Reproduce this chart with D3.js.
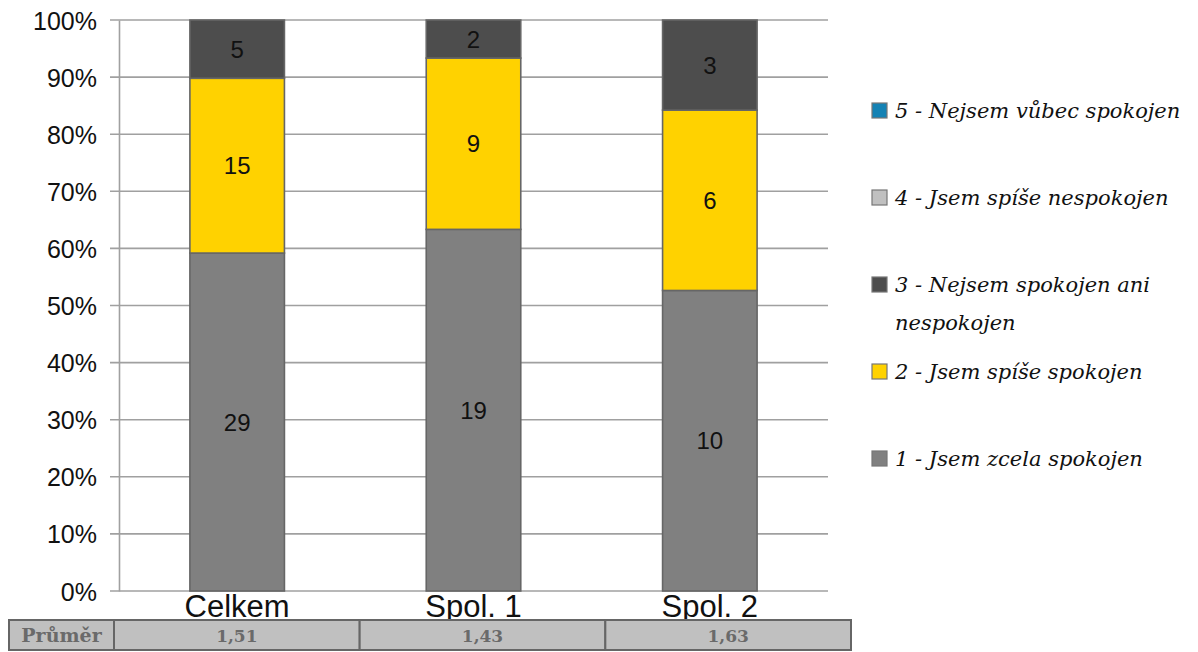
<!DOCTYPE html>
<html>
<head>
<meta charset="utf-8">
<script src="https://cdn.jsdelivr.net/npm/d3@7"></script>
<style>
  body { margin: 0; background: #fff; }
  svg { display: block; }
</style>
</head>
<body>
<div id="chart"></div>
<script>
var categories = ["Celkem", "Spol. 1", "Spol. 2"];
var answers = ["1 - Jsem zcela spokojen", "2 - Jsem spíše spokojen", "3 - Nejsem spokojen ani nespokojen", "4 - Jsem spíše nespokojen", "5 - Nejsem vůbec spokojen"];
var answerColors = ["#808080", "#ffd200", "#4d4d4d", "#c0c0c0", "#1482b4"];
// counts per answer (1..5) for each category
var counts1 = [29, 19, 10];
var counts2 = [15, 9, 6];
var counts3 = [5, 2, 3];
var counts4 = [0, 0, 0];
var counts5 = [0, 0, 0];
var averages = ["1,51", "1,43", "1,63"];
var avgLabel = "Průměr";
var yTicks = [0, 0.1, 0.2, 0.3, 0.4, 0.5, 0.6, 0.7, 0.8, 0.9, 1];

function buildChart(sel) {
    var W = 1198, H = 652;
    var plot = {left: 119, right: 828, top: 20, bottom: 591};

    var svg = d3.select(sel).append("svg")
        .attr("width", W)
        .attr("height", H);

    var allCounts = [counts1, counts2, counts3, counts4, counts5];
    var rows = categories.map(function(c, i) {
        var r = {cat: c};
        answers.forEach(function(a, k) { r[a] = allCounts[k][i]; });
        return r;
    });
    var stack = d3.stack().keys(answers).offset(d3.stackOffsetExpand);
    var series = stack(rows);

    var xScale = d3.scaleBand().domain(categories).range([plot.left, plot.right]).paddingInner(0.6).paddingOuter(0.3);
    var yScale = d3.scaleLinear().domain([0, 1]).range([plot.bottom, plot.top]);
    var color = d3.scaleOrdinal().domain(answers).range(answerColors);

    // gridlines
    svg.append("g")
        .selectAll("line")
        .data(yTicks)
        .enter().append("line")
        .attr("x1", plot.left - 9)
        .attr("x2", plot.right)
        .attr("y1", function(d) { return yScale(d); })
        .attr("y2", function(d) { return yScale(d); })
        .style("stroke", "#a0a0a0")
        .style("stroke-width", "1.6px");

    var yAxis = d3.axisLeft(yScale).tickValues(yTicks).tickFormat(d3.format(".0%")).tickSize(0).tickPadding(22);
    var yG = svg.append("g")
        .attr("transform", "translate(" + plot.left + ",0)")
        .call(yAxis);
    yG.select(".domain").style("stroke", "#a0a0a0").style("stroke-width", "1.6px");
    yG.selectAll("text")
        .style("font", "25px 'Liberation Sans', Arial, sans-serif")
        .attr("fill", "#111")
        .attr("dy", "0.36em");

    // bars
    var groups = svg.selectAll(".serie")
        .data(series)
        .enter().append("g")
        .attr("class", "serie")
        .style("fill", function(d) { return color(d.key); });

    groups.selectAll("rect")
        .data(function(d) { return d.filter(function(p) { return p[1] > p[0]; }); })
        .enter().append("rect")
        .attr("x", function(d) { return xScale(d.data.cat); })
        .attr("width", xScale.bandwidth())
        .attr("y", function(d) { return yScale(d[1]); })
        .attr("height", function(d) { return yScale(d[0]) - yScale(d[1]); })
        .style("stroke", "#666")
        .style("stroke-width", "1.6px");

    groups.selectAll("text")
        .data(function(d) {
            return d.filter(function(p) { return p[1] > p[0]; })
                .map(function(p) { return {p: p, v: p.data[d.key]}; });
        })
        .enter().append("text")
        .attr("x", function(d) { return xScale(d.p.data.cat) + xScale.bandwidth() / 2; })
        .attr("y", function(d) { return yScale((d.p[0] + d.p[1]) / 2); })
        .attr("dy", "0.36em")
        .attr("text-anchor", "middle")
        .style("fill", "#111")
        .style("font", "24px 'Liberation Sans', Arial, sans-serif")
        .text(function(d) { return d.v; });

    // category labels
    svg.append("g")
        .selectAll("text")
        .data(categories)
        .enter().append("text")
        .attr("x", function(d) { return xScale(d) + xScale.bandwidth() / 2; })
        .attr("y", 617)
        .attr("text-anchor", "middle")
        .style("fill", "#111")
        .style("font", "31px 'Liberation Sans', Arial, sans-serif")
        .text(function(d) { return d; });

    // table with averages: label cell + equal cells for categories
    var tbl = svg.append("g");
    var tx0 = 114, tx1 = 851, cw = (tx1 - tx0) / categories.length;
    var cells = [{x0: 9, x1: tx0, t: avgLabel, big: true}];
    averages.forEach(function(a, i) {
        cells.push({x0: tx0 + i * cw, x1: tx0 + (i + 1) * cw, t: a, big: false});
    });
    tbl.selectAll("rect")
        .data(cells)
        .enter().append("rect")
        .attr("x", function(d) { return d.x0; })
        .attr("y", 620)
        .attr("width", function(d) { return d.x1 - d.x0; })
        .attr("height", 30)
        .style("fill", "#c0c0c0")
        .style("stroke", "#666")
        .style("stroke-width", "2px");
    tbl.selectAll("text")
        .data(cells)
        .enter().append("text")
        .attr("x", function(d) { return (d.x0 + d.x1) / 2; })
        .attr("y", 642)
        .attr("text-anchor", "middle")
        .style("fill", "#6a6a6a")
        .style("font-family", "'DejaVu Serif', serif")
        .style("font-weight", "bold")
        .style("font-size", function(d) { return d.big ? "19px" : "17px"; })
        .text(function(d) { return d.t; });

    // legend (reverse order, 5 on top)
    var legendItems = answers.slice().reverse();
    var leg = svg.append("g");
    var item = leg.selectAll(".leg")
        .data(legendItems)
        .enter().append("g")
        .attr("class", "leg")
        .attr("transform", function(d, i) { return "translate(872," + (111 + i * 87) + ")"; });
    item.append("rect")
        .attr("x", 0)
        .attr("y", -8)
        .attr("width", 15)
        .attr("height", 15)
        .style("fill", function(d) { return color(d); })
        .style("stroke", "#777")
        .style("stroke-width", "1.2px");
    item.append("text")
        .attr("x", 23)
        .attr("y", 0)
        .attr("dy", "0.35em")
        .style("font", "italic 21px 'DejaVu Serif', serif")
        .style("fill", "#111")
        .each(function(d) {
            var el = d3.select(this);
            var words = d.split(" ");
            var line = [];
            var tspan = el.append("tspan").attr("x", 23);
            words.forEach(function(w) {
                line.push(w);
                tspan.text(line.join(" "));
                if (tspan.node().getComputedTextLength() > 300 && line.length > 1) {
                    line.pop();
                    tspan.text(line.join(" "));
                    line = [w];
                    tspan = el.append("tspan").attr("x", 23).attr("dy", "1.8em").text(w);
                }
            });
        });
}

buildChart("#chart");
</script>
</body>
</html>
